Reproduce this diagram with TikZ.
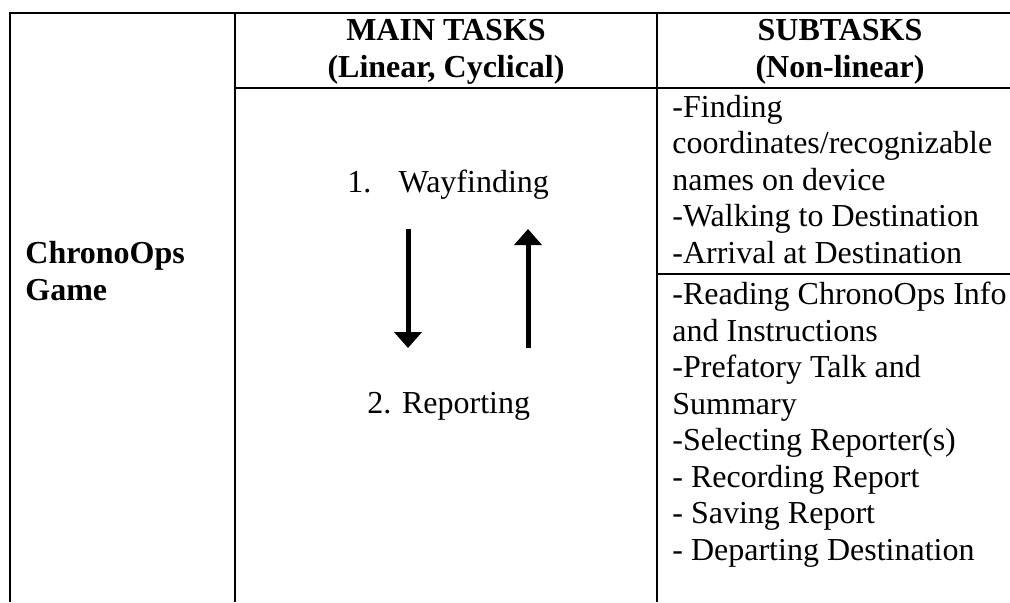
\documentclass[tikz,border=0pt]{standalone}
\usepackage{fontspec}
\setmainfont{Liberation Serif}
\usetikzlibrary{arrows.meta}

\tikzset{
  cell/.style={inner sep=0pt, align=left, anchor=base west, font=\fontsize{16}{18.25}\selectfont},
  head/.style={inner sep=0pt, align=center, anchor=base, font=\fontsize{16}{18.25}\selectfont\bfseries},
  rule/.style={line width=1pt},
  flow/.style={line width=2.5pt, -{Triangle[width=13.5pt,length=8pt]}}
}

\begin{document}
\begin{tikzpicture}[x=0.5pt,y=-0.5pt]
  \useasboundingbox (0,0) rectangle (1010,602);

  % Table rules
  \draw[rule] (10,602) -- (10,13.3) -- (1010,13.3);
  \draw[rule] (234.5,13.3) -- (234.5,602);
  \draw[rule] (656.7,13.3) -- (656.7,602);
  \draw[rule] (234.5,88.3) -- (1010,88.3);
  \draw[rule] (656.7,274) -- (1010,274);

  % Nodes (base = last line)
  \node[head] (main) at (446,77) {MAIN TASKS\\(Linear, Cyclical)};
  \node[head] (sub) at (840,77) {SUBTASKS\\(Non-linear)};
  \node[cell, font=\fontsize{16}{18.25}\selectfont\bfseries] (game) at (25,300) {ChronoOps\\Game};
  \node[cell] (way) at (347,192) {1.\hspace{0.85em}Wayfinding};
  \node[cell] (rep) at (367,413) {2. Reporting};
  \node[cell] (wayT) at (672,263) {-Finding\\coordinates/recognizable\\names on device\\-Walking to Destination\\-Arrival at Destination};
  \node[cell] (repT) at (672,560) {-Reading ChronoOps Info\\and Instructions\\-Prefatory Talk and\\Summary\\-Selecting Reporter(s)\\- Recording Report\\- Saving Report\\- Departing Destination};

  \coordinate (downA) at (408,229);
  \coordinate (downB) at (408,348);
  \coordinate (upA) at (528,348);
  \coordinate (upB) at (528,229);

  % Edges
  \draw[flow] (downA) -- (downB);
  \draw[flow] (upA) -- (upB);
\end{tikzpicture}
\end{document}
